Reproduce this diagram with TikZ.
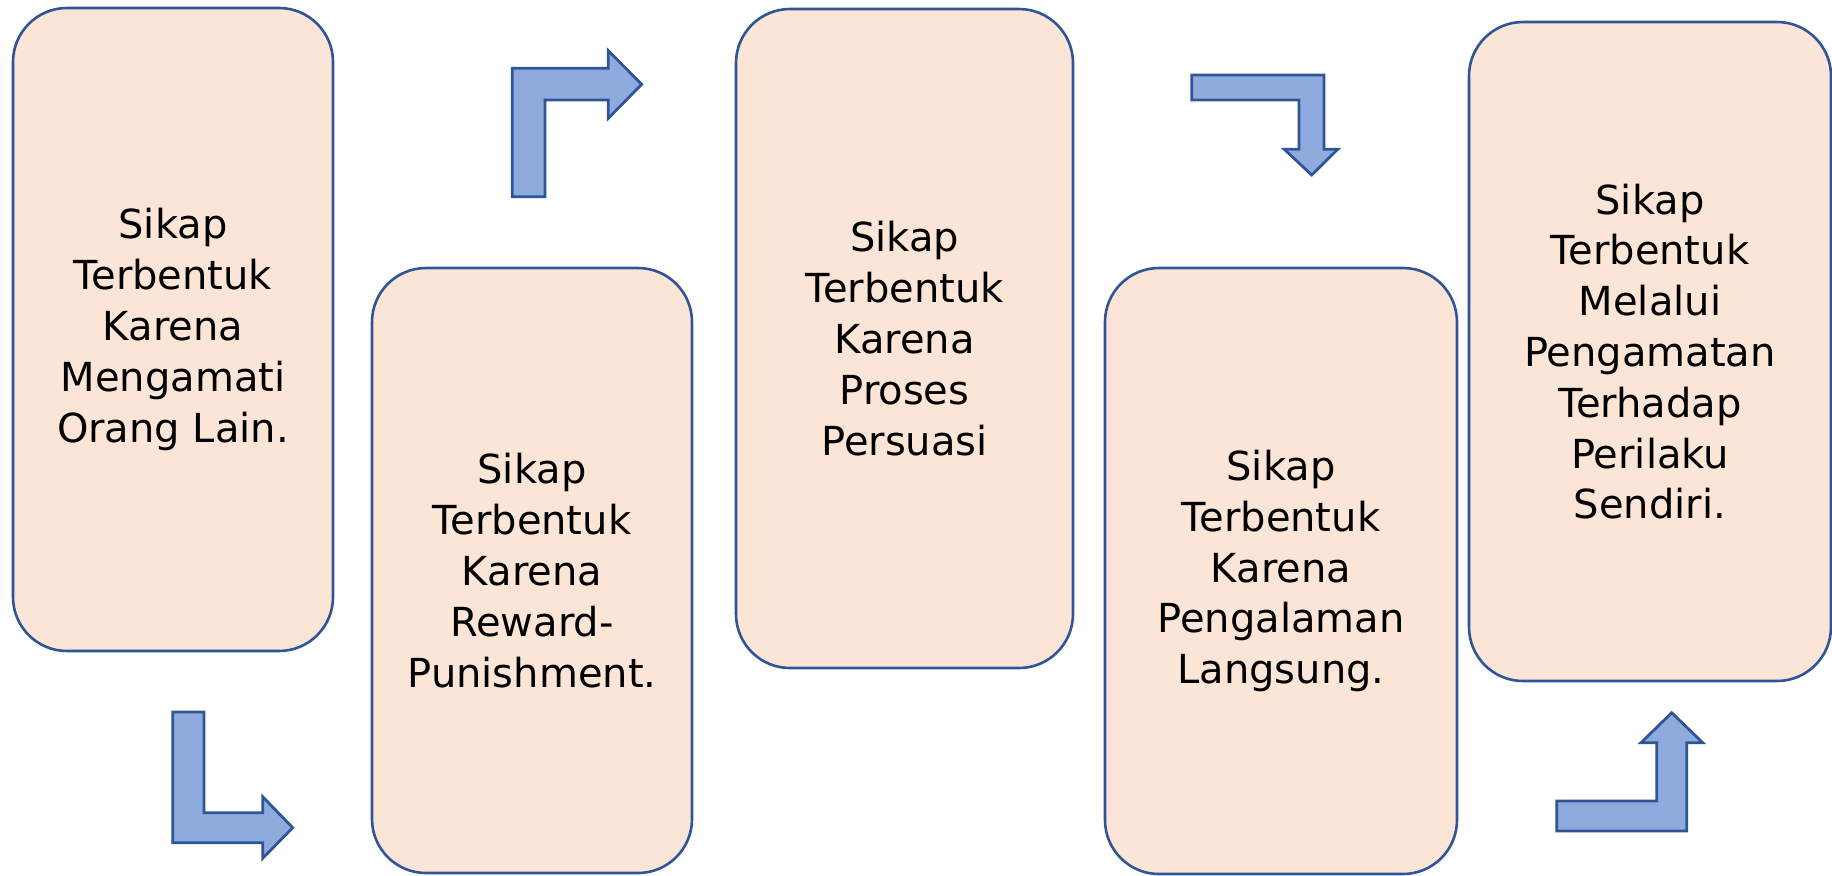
\documentclass[tikz,border=0pt]{standalone}
\usepackage{fontspec}
\setmainfont{DejaVu Sans}
\usetikzlibrary{positioning}
\definecolor{boxfill}{HTML}{FBE5D6}
\definecolor{boxline}{HTML}{2F5597}
\definecolor{arrowfill}{HTML}{8FAADC}

\begin{document}
\begin{tikzpicture}[
            x=0.5pt, y=-0.5pt,
            stage/.style={
                draw=boxline, fill=boxfill, line width=1.3pt,
                rounded corners=27pt, align=center,
                inner sep=0pt,
                font=\fontsize{20}{25.4}\selectfont
            },
            bentarrow/.style={
                draw=boxline, fill=arrowfill, line width=1.4pt,
                line join=miter
            }
        ]
        \clip (0, 0) rectangle (1832, 875);

        \node[stage, minimum width=160pt, minimum height=321.5pt] (stageOne) at (173, 329.5)
            {Sikap\\Terbentuk\\Karena\\Mengamati\\Orang Lain.};
        \node[stage, minimum width=160pt, minimum height=302.5pt] (stageTwo) at (532, 570.5)
            {Sikap\\Terbentuk\\Karena\\Reward-\\Punishment.};
        \node[stage, minimum width=168.5pt, minimum height=329.5pt] (stageThree) at (904.5, 338.5)
            {Sikap\\Terbentuk\\Karena\\Proses\\Persuasi};
        \node[stage, minimum width=176pt, minimum height=303pt] (stageFour) at (1281, 571)
            {Sikap\\Terbentuk\\Karena\\Pengalaman\\Langsung.};
        \node[stage, minimum width=181pt, minimum height=329.5pt] (stageFive) at (1650, 351.5)
            {Sikap\\Terbentuk\\Melalui\\Pengamatan\\Terhadap\\Perilaku\\Sendiri.};

        % bent block arrows between the stages
        \draw[bentarrow] (172.7, 712) -- (204, 712) -- (204, 812.7) -- (262.7, 812.7) -- (262.7, 796.7)
            -- (292.7, 827.7) -- (262.7, 858.3) -- (262.7, 842.7) -- (172.7, 842.7) -- cycle;
        \draw[bentarrow] (512.3, 196.7) -- (512.3, 68.3) -- (608.3, 68.3) -- (608.3, 50.7)
            -- (641.7, 84.3) -- (608.3, 118.3) -- (608.3, 100) -- (545, 100) -- (545, 196.7) -- cycle;
        \draw[bentarrow] (1191.7, 75) -- (1324, 75) -- (1324, 149.3) -- (1337.7, 149.3)
            -- (1311.7, 175) -- (1284.3, 149.3) -- (1299, 149.3) -- (1299, 100) -- (1191.7, 100) -- cycle;
        \draw[bentarrow] (1556.7, 801) -- (1656.7, 801) -- (1656.7, 742.7) -- (1641, 742.7)
            -- (1671.7, 712.7) -- (1702.7, 742.7) -- (1686.7, 742.7) -- (1686.7, 831) -- (1556.7, 831) -- cycle;
    \end{tikzpicture}
\end{document}
